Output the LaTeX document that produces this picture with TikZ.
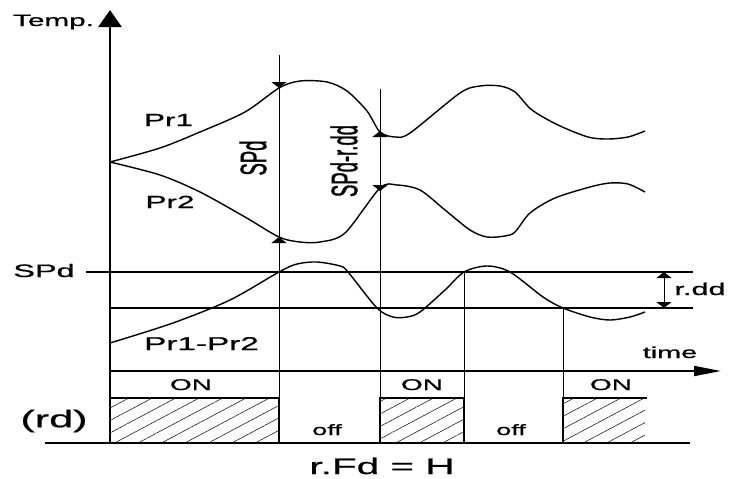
\documentclass[tikz,border=0pt]{standalone}
\usepackage{fontspec}
\newfontfamily\widesf{Liberation Sans}[FakeStretch=1.8,FakeBold=0.8]
\newfontfamily\narrowsf{Liberation Sans}[FakeStretch=0.5,FakeBold=0.8]
\usetikzlibrary{arrows.meta}
\usetikzlibrary{patterns.meta}
\newcommand{\wsize}[1]{\widesf\fontsize{#1}{#1}\selectfont}

\begin{document}
\begin{tikzpicture}[x=1pt,y=-1pt,
    txt/.style={inner sep=0pt,anchor=base},
    vtxt/.style={inner sep=0pt,rotate=90,font=\narrowsf\fontsize{37}{37}\selectfont},
    wave/.style={line width=1.4pt,line join=round},
    guide/.style={line width=0.8pt},
    level/.style={line width=1.6pt},
    hatch/.style={pattern={Lines[angle=28,distance=11pt,line width=0.5pt]}},
    tri/.tip={Triangle[width=15pt,length=6pt]}]
  \useasboundingbox (0,0) rectangle (731,479);

  % axes
  \draw[line width=2.6pt,-{Triangle[width=23pt,length=17pt]}] (110,443) -- (110,10);
  \draw[line width=1.8pt,-{Triangle[width=10pt,length=27pt]}] (110,371) -- (721,371);
  \draw[level] (45,443) -- (690,443);

  % set point and differential
  \coordinate (spd) at (86,272);
  \coordinate (spdend) at (693,272);
  \coordinate (low) at (110,308);
  \coordinate (lowend) at (693,308);
  \draw[level] (spd) -- (spdend);
  \draw[level] (low) -- (lowend);
  \coordinate (rdtop) at (664,272);
  \coordinate (rdbot) at (664,308);
  \draw[guide,tri-tri] (rdtop) -- (rdbot);

  % guide lines
  \coordinate (a1) at (279,55);
  \coordinate (pa) at (279,88);
  \coordinate (pb) at (279,237);
  \coordinate (a2) at (279,443);
  \draw[guide] (a1) -- (a2);
  \draw[guide,-tri] (a1) -- (pa);
  \draw[guide,-tri] (a2) -- (pb);

  \coordinate (b1) at (380,89);
  \coordinate (qa) at (380,131);
  \coordinate (qb) at (380,191);
  \coordinate (b2) at (380,443);
  \draw[guide] (b1) -- (b2);
  \draw[guide,tri-tri] (qa) -- (qb);

  \draw[guide] (464,272) -- (464,443);
  \draw[guide] (563,308) -- (563,443);

  % probes
  \draw[wave] plot[smooth,tension=0.5] coordinates {(110,162) (160,148) (200,132) (245,112)
    (279,88) (300,81) (327,82) (347,91) (367,111) (380,132) (395,137) (410,133) (460,93)
    (480,86) (500,86) (515,92) (532,110) (558,125) (588,137) (608,139) (628,137) (645,131)};
  \draw[wave] plot[smooth,tension=0.5] coordinates {(110,162) (160,175) (200,192) (245,217)
    (279,237) (300,242) (320,242) (345,233) (380,188) (397,185) (420,190) (445,210)
    (470,230) (487,237) (505,236) (515,232) (530,213) (555,198) (590,187) (610,183)
    (628,184) (645,192)};
  \draw[wave] plot[smooth,tension=0.5] coordinates {(110,343) (173,323) (230,300) (279,272)
    (297,264) (317,262) (340,266) (348,272) (377,308) (393,317) (407,317) (420,312)
    (445,290) (464,272) (487,266) (510,272) (543,297) (563,308) (590,317) (610,320)
    (630,317) (645,312)};

  % relay
  \fill[hatch] (110,398) rectangle (279,443);
  \fill[hatch] (380,398) rectangle (464,443);
  \fill[hatch] (563,398) rectangle (645,443);
  \draw[level] (110,398) -| (279,443);
  \draw[level] (380,443) |- (464,398) -- (464,443);
  \draw[level] (563,443) |- (647,398);

  % labels
  \node[txt,font=\wsize{16.5}] (temp) at (53.5,26) {Temp.};
  \node[txt,font=\wsize{17.5}] (pr1) at (168.5,126) {Pr1};
  \node[txt,font=\wsize{17.5}] (pr2) at (170,208) {Pr2};
  \node[vtxt] (spdv) at (253,158) {SPd};
  \node[vtxt] (spdrdd) at (344,161) {SPd-r.dd};
  \node[txt,font=\wsize{18}] (spdl) at (44,277) {SPd};
  \node[txt,font=\wsize{17}] (rdd) at (700,295) {r.dd};
  \node[txt,font=\wsize{18.5}] (diff) at (201.5,350) {Pr1-Pr2};
  \node[txt,font=\wsize{16}] (time) at (670,358) {time};
  \node[txt,font=\wsize{15.5}] (on1) at (191,390) {ON};
  \node[txt,font=\wsize{15.5}] (on2) at (422,390) {ON};
  \node[txt,font=\wsize{15.5}] (on3) at (611,390) {ON};
  \node[txt,font=\wsize{15}] (off1) at (327,435) {off};
  \node[txt,font=\wsize{15}] (off2) at (511,435) {off};
  \node[inner sep=0pt,font=\wsize{24}] (rd) at (54,421) {(rd)};
  \node[txt,font=\wsize{22.5}] (rfd) at (382,474) {r.Fd = H};
\end{tikzpicture}
\end{document}
